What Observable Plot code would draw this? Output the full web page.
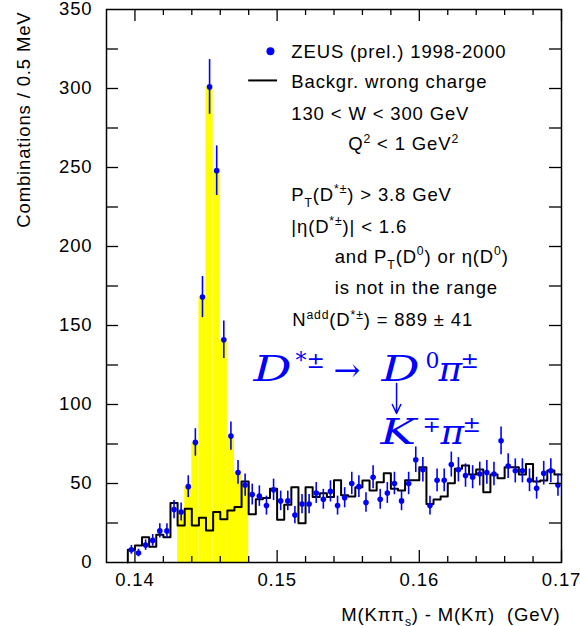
<!DOCTYPE html>
<html><head><meta charset="utf-8">
<script src="https://cdn.jsdelivr.net/npm/d3@7"></script>
<script src="https://cdn.jsdelivr.net/npm/@observablehq/plot@0.6"></script>
<style>body{margin:0;background:#fff}</style>
</head><body><div id="chart"></div>
<script>
// ---------- data ----------
const binStart = 0.1395;          // left edge of first 0.5 MeV bin (GeV)
const binWidth = 0.0005;
const dataCounts = [8, 6, 11, 14, 20, 20, 33.5, 32, 48, 76,
  168, 301, 248, 141, 80, 57, 49, 43, 42, 36,
  46, 39, 39, 30, 37, 37, 44, 40, 45, 36,
  41, 50, 48, 38, 54, 40, 44, 50, 39, 50,
  65, 58.7, 36, 52, 52, 62, 58.7, 55, 54, 56,
  57, 56, 77, 61, 58, 58, 52, 47, 56.5, 58, 49];
const dataErrors = [2.8, 2.4, 3.3, 3.7, 4.5, 4.5, 5.8, 5.7, 6.9, 8.7,
  13.0, 17.3, 15.7, 11.9, 8.9, 7.5, 7.0, 6.6, 6.5, 6.0,
  6.8, 6.2, 6.2, 5.5, 6.1, 6.1, 6.6, 6.3, 6.7, 6.0,
  6.4, 7.1, 6.9, 6.2, 7.3, 6.3, 6.6, 7.1, 6.2, 7.1,
  8.1, 7.7, 6.0, 7.2, 7.2, 7.9, 7.7, 7.4, 7.3, 7.5,
  7.5, 7.5, 8.8, 7.8, 7.6, 7.6, 7.2, 6.9, 7.5, 7.6, 7.0];
const bgCounts = [8, 10.8, 16, 10, 17.5, 16, 37.6, 23.4, 34, 23.4,
  28.3, 20.3, 32, 27.3, 32.9, 35.2, 51.3, 30.6, 40, 40.9,
  46.6, 27, 36.5, 47.7, 24.9, 47.7, 41.4, 43.9, 41.4, 52.1,
  42.5, 41.8, 47.7, 51.9, 45.6, 50.8, 56.5, 46.6, 45.6, 52,
  52, 60.3, 37.1, 39.9, 41.8, 50.2, 59.3, 61.4, 55.7, 58.9,
  44.5, 55.7, 53.4, 60.3, 60.3, 55.7, 62.4, 51.3, 51.9, 58.2, 55.7];
const signalRange = [0.143, 0.148];

const xDomain = [0.138, 0.17];
const yDomain = [0, 350];
const xMajorTicks = [0.14, 0.15, 0.16, 0.17];
const xMinorTicks = [0.142, 0.144, 0.146, 0.148, 0.152, 0.154, 0.156, 0.158,
  0.162, 0.164, 0.166, 0.168];
const yTickMarks = [25, 50, 75, 100, 125, 150, 175, 200, 225, 250, 275, 300, 325];
const yTickLabels = [0, 50, 100, 150, 200, 250, 300, 350];

const yTitle = "Combinations / 0.5 MeV";
const xTitle = "M(Kππ_{s}) - M(Kπ)  (GeV)";

// legend + annotations (rich markup: ^{..} superscript, _{..} subscript)
const legendDot = {x: 0.14953, y: 323.6};
const legendLine = {x1: 0.148, x2: 0.15003, y: 305.1};
const notes = [
  {x: 0.151, y: 319.4, s: "ZEUS (prel.) 1998-2000"},
  {x: 0.151, y: 300.4, s: "Backgr. wrong charge"},
  {x: 0.151, y: 280.2, s: "130 < W < 300 GeV"},
  {x: 0.155, y: 260.8, s: "Q^{2} < 1 GeV^{2}"},
  {x: 0.151, y: 228.7, s: "P_{T}(D^{*±}) > 3.8 GeV"},
  {x: 0.151, y: 208.4, s: "|η(D^{*±})| < 1.6"},
  {x: 0.15405, y: 189.7, s: "and P_{T}(D^{0}) or η(D^{0})"},
  {x: 0.15405, y: 170.1, s: "is not in the range"},
  {x: 0.15106, y: 149.4, s: "N^{add}(D^{*±}) = 889 ± 41"}
];
const formula = [
  {t: "D", x: 0.14834, y: 114.7, kind: "it"},
  {t: "*±", x: 0.15129, y: 122.8, kind: "sup"},
  {t: "→", x: 0.15397, y: 114.7, kind: "up"},
  {t: "D", x: 0.15734, y: 114.7, kind: "it"},
  {t: "0", x: 0.16044, y: 122.8, kind: "sup"},
  {t: "π", x: 0.16135, y: 114.7, kind: "it"},
  {t: "±", x: 0.16290, y: 122.8, kind: "sup"},
  {t: "K", x: 0.15727, y: 75.3, kind: "it"},
  {t: "∓", x: 0.16022, y: 82.9, kind: "sup"},
  {t: "π", x: 0.16149, y: 75.3, kind: "it"},
  {t: "±", x: 0.16304, y: 82.9, kind: "sup"}
];
const wideGlyphs = ["D", "K"];   // rendered wider, like the TeX capitals of the original
const decayArrow = [{x: 0.1584, y1: 113.3, y2: 94.3}];

// ---------- derived tables ----------
const points = dataCounts.map((v, k) => ({
  x: binStart + (k + 0.5) * binWidth, lo: binStart + k * binWidth,
  hi: binStart + (k + 1) * binWidth, v, e: dataErrors[k]
}));
const signal = points.filter(d => d.lo >= signalRange[0] - 1e-9 && d.hi <= signalRange[1] + 1e-9);
const bgLine = [{x: binStart, y: 0}]
  .concat(bgCounts.map((v, k) => ({x: binStart + k * binWidth, y: v})))
  .concat([{x: binStart + bgCounts.length * binWidth, y: bgCounts[bgCounts.length - 1]}]);

function parseRich(s) {
  const parts = []; const re = /([\^_])\{([^}]*)\}/g; let last = 0, m;
  while ((m = re.exec(s))) {
    if (m.index > last) parts.push([s.slice(last, m.index), ""]);
    parts.push([m[2], m[1] === "^" ? "sup" : "sub"]);
    last = re.lastIndex;
  }
  if (last < s.length) parts.push([s.slice(last), ""]);
  return parts;
}
const plain = s => parseRich(s).map(p => p[0]).join("");
const richMap = new Map();
[...notes.map(d => d.s), xTitle].forEach(s => richMap.set(plain(s), parseRich(s)));

// ---------- plot ----------
const W = 580, H = 626, mL = 106, mR = 19, mT = 9, mB = 64;
const FW = W - mL - mR, FH = H - mT - mB;
const TK = 12, TKm = 6;
const blue = "#0000ff";
const serif = "DejaVu Serif, Liberation Serif, serif";

const chart = Plot.plot({
  width: W, height: H,
  marginLeft: mL, marginRight: mR, marginTop: mT, marginBottom: mB,
  style: {fontFamily: "Liberation Sans, Arial, sans-serif", fontSize: "18.5px", letterSpacing: "0.85px", background: "white", color: "black"},
  x: {domain: xDomain},
  y: {domain: yDomain},
  marks: [
    Plot.rect(signal, {x1: "lo", x2: "hi", y1: 0, y2: "v", fill: "#ffff00"}),
    Plot.line(bgLine, {x: "x", y: "y", curve: "step-after", stroke: "black", strokeWidth: 2}),
    Plot.ruleX(points, {x: "x", y1: d => d.v - d.e, y2: d => d.v + d.e, stroke: blue, strokeWidth: 1.6}),
    Plot.dot(points, {x: "x", y: "v", r: 2.8, fill: blue, stroke: null}),
    // frame & inward ticks
    Plot.frame({stroke: "black", strokeWidth: 1.5}),
    Plot.ruleX(xMajorTicks, {x: d => d, insetTop: FH - TK, stroke: "black", strokeWidth: 1.3}),
    Plot.ruleX(xMajorTicks, {x: d => d, insetBottom: FH - TK, stroke: "black", strokeWidth: 1.3}),
    Plot.ruleX(xMinorTicks, {x: d => d, insetTop: FH - TKm, stroke: "black", strokeWidth: 1.3}),
    Plot.ruleX(xMinorTicks, {x: d => d, insetBottom: FH - TKm, stroke: "black", strokeWidth: 1.3}),
    Plot.ruleY(yTickMarks, {y: d => d, insetRight: FW - TK, stroke: "black", strokeWidth: 1.3}),
    Plot.ruleY(yTickMarks, {y: d => d, insetLeft: FW - TK, stroke: "black", strokeWidth: 1.3}),
    Plot.axisX({ticks: xMajorTicks, tickSize: 0, tickPadding: 10.5, tickFormat: d => d.toFixed(2), label: null}),
    Plot.axisY({ticks: yTickLabels, tickSize: 0, tickPadding: 14, tickFormat: d => String(d), label: null}),
    // titles
    Plot.text([yTitle], {text: d => d, frameAnchor: "top-left", dx: 29 - mL, dy: 11 - mT, rotate: -90, textAnchor: "end", lineAnchor: "bottom"}),
    Plot.text([plain(xTitle)], {text: d => d, frameAnchor: "bottom-right", dx: -1, dy: 620 - (H - mB), textAnchor: "end", lineAnchor: "bottom"}),
    // legend
    Plot.dot([legendDot], {x: "x", y: "y", r: 4, fill: blue, stroke: null}),
    Plot.ruleY([legendLine], {y: "y", x1: "x1", x2: "x2", stroke: "black", strokeWidth: 2}),
    Plot.text(notes, {x: "x", y: "y", text: d => plain(d.s), textAnchor: "start", lineAnchor: "bottom", fill: "black"}),
    // decay formula
    Plot.text(formula.filter(d => d.kind === "it"), {x: "x", y: "y", text: "t", textAnchor: "start", lineAnchor: "bottom", fill: blue, fontFamily: serif, fontStyle: "italic", fontSize: 36}),
    Plot.text(formula.filter(d => d.kind === "up"), {x: "x", y: "y", text: "t", textAnchor: "start", lineAnchor: "bottom", fill: blue, fontFamily: serif, fontSize: 32}),
    Plot.text(formula.filter(d => d.kind === "sup"), {x: "x", y: "y", text: "t", textAnchor: "start", lineAnchor: "bottom", fill: blue, fontFamily: serif, fontSize: 22}),
    Plot.arrow(decayArrow, {x1: "x", x2: "x", y1: "y1", y2: "y2", stroke: blue, strokeWidth: 1.5, headLength: 10, headAngle: 50})
  ]
});
document.getElementById("chart").appendChild(chart);

// formula glyphs: no extra letter spacing; wide TeX-like capitals
chart.querySelectorAll("g[fill='" + blue + "'] text").forEach(t => {
  t.style.letterSpacing = "0px";
  if (wideGlyphs.includes(t.textContent) && t.closest("g[font-style='italic']")) {
    t.setAttribute("transform", (t.getAttribute("transform") || "") + " scale(1.32,1)");
  }
});

// rich text: superscripts / subscripts
chart.querySelectorAll("text").forEach(t => {
  const parts = richMap.get(t.textContent);
  if (!parts) return;
  const fs = parseFloat(getComputedStyle(t).fontSize) || 18.5;
  while (t.firstChild) t.removeChild(t.firstChild);
  let cur = 0;
  for (const [str, mode] of parts) {
    const ts = document.createElementNS("http://www.w3.org/2000/svg", "tspan");
    const shift = mode === "sup" ? -0.42 * fs : mode === "sub" ? 0.32 * fs : 0;
    if (shift - cur !== 0) ts.setAttribute("dy", (shift - cur).toFixed(2));
    cur = shift;
    if (mode) ts.style.fontSize = (0.66 * fs).toFixed(2) + "px";
    ts.textContent = str;
    t.appendChild(ts);
  }
});
</script>
</body></html>
